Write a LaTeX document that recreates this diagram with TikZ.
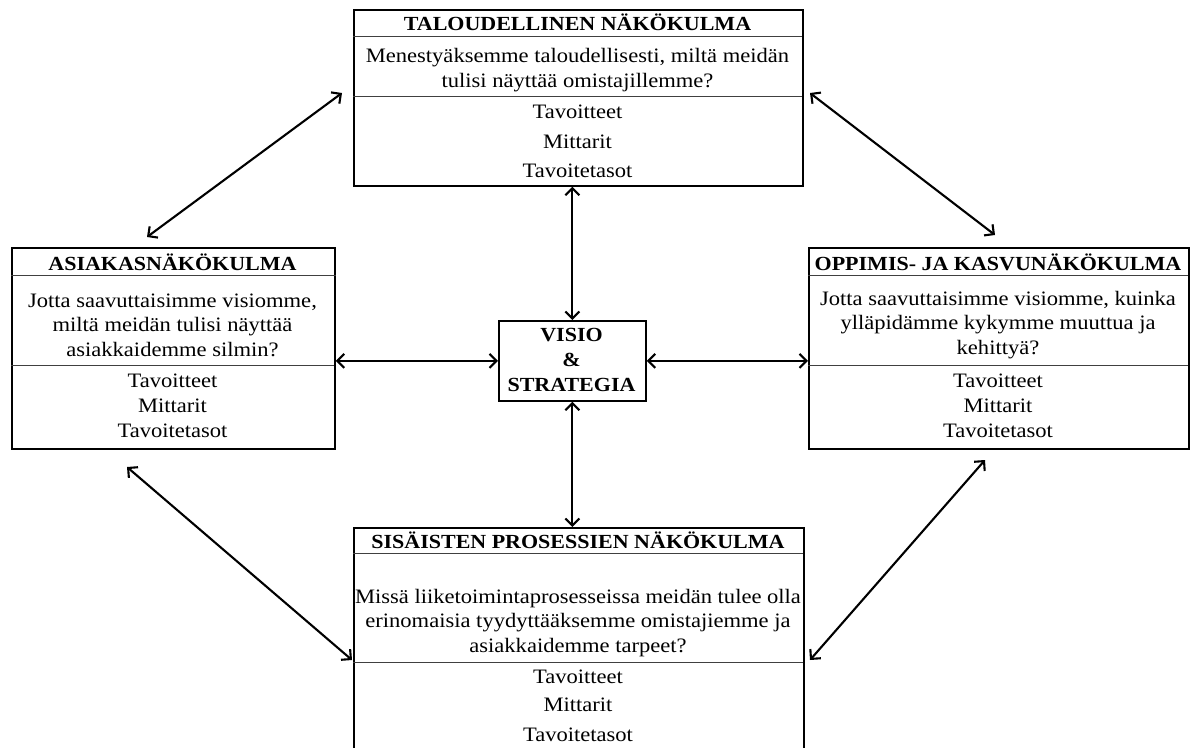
\documentclass[tikz,border=0pt]{standalone}
\usepackage{fontspec}
\setmainfont{Liberation Serif}[FakeStretch=1.1]
\usetikzlibrary{arrows.meta}

\tikzset{
  panel/.style={draw, line width=1.7pt, inner sep=0pt, anchor=north west},
  rule/.style={line width=1pt, black!75},
  head/.style={font=\fontsize{20}{25}\selectfont\bfseries, inner sep=0pt},
  body/.style={font=\fontsize{20.5}{24.5}\selectfont, align=center, inner sep=0pt},
  link/.style={line width=2.1pt,
    {Straight Barb[length=7pt,width=14pt]}-{Straight Barb[length=7pt,width=14pt]}},
}

\begin{document}
\begin{tikzpicture}[x=1pt,y=-1pt]
\useasboundingbox[fill=white] (0,0) rectangle (1190,747);

% --- financial perspective (top) ---
\node[panel, minimum width=449pt, minimum height=176pt] (fin) at (353,9) {};
\draw[rule] (353,36) -- (802,36);
\draw[rule] (353,96) -- (802,96);
\node[head] (finh) at (577.5,22) {TALOUDELLINEN NÄKÖKULMA};
\node[body] (finq) at (577.5,70) {Menestyäksemme taloudellisesti, miltä meidän\\tulisi näyttää omistajillemme?};
\node[body] (fint) at (577.5,112) {Tavoitteet};
\node[body] (finm) at (577.5,142) {Mittarit};
\node[body] (fins) at (577.5,171) {Tavoitetasot};

% --- customer perspective (left) ---
\node[panel, minimum width=323pt, minimum height=201pt] (cus) at (11,247) {};
\draw[rule] (11,275) -- (336,275);
\draw[rule] (11,365) -- (334,365);
\node[head] (cush) at (172.5,262) {ASIAKASNÄKÖKULMA};
\node[body] (cusq) at (172.5,325) {Jotta saavuttaisimme visiomme,\\miltä meidän tulisi näyttää\\asiakkaidemme silmin?};
\node[body] (cust) at (172.5,381) {Tavoitteet};
\node[body] (cusm) at (172.5,406) {Mittarit};
\node[body] (cuss) at (172.5,431) {Tavoitetasot};

% --- learning and growth perspective (right) ---
\node[panel, minimum width=380pt, minimum height=201pt] (lrn) at (808,247) {};
\draw[rule] (808,275) -- (1188,275);
\draw[rule] (808,365) -- (1188,365);
\node[head] (lrnh) at (998,262) {OPPIMIS- JA KASVUNÄKÖKULMA};
\node[body] (lrnq) at (998,325) {Jotta saavuttaisimme visiomme, kuinka\\ylläpidämme kykymme muuttua ja\\kehittyä?};
\node[body] (lrnt) at (998,381) {Tavoitteet};
\node[body] (lrnm) at (998,406) {Mittarit};
\node[body] (lrns) at (998,431) {Tavoitetasot};

% --- internal process perspective (bottom, runs off the page) ---
\node[panel, minimum width=450pt, minimum height=240pt] (int) at (353,527) {};
\draw[rule] (353,553) -- (803,553);
\draw[rule] (353,662) -- (803,662);
\node[head] (inth) at (578,540) {SISÄISTEN PROSESSIEN NÄKÖKULMA};
\node[body] (intq) at (578,623) {Missä liiketoimintaprosesseissa meidän tulee olla\\erinomaisia tyydyttääksemme omistajiemme ja\\asiakkaidemme tarpeet?};
\node[body] (intt) at (578,677) {Tavoitteet};
\node[body] (intm) at (578,705) {Mittarit};
\node[body] (ints) at (578,735) {Tavoitetasot};

% --- vision and strategy (centre) ---
\node[panel, minimum width=147pt, minimum height=80pt] (vis) at (498,320) {};
\node[head, align=center] (vist) at (571.5,360) {VISIO\\\&\\STRATEGIA};

% --- links ---
\coordinate (tlA) at (147,237);
\coordinate (tlB) at (342,93);
\coordinate (trA) at (810,93);
\coordinate (trB) at (995,235);
\coordinate (blA) at (127,467);
\coordinate (blB) at (352,660);
\coordinate (brA) at (985,460);
\coordinate (brB) at (810,660);

\draw[link] (vis.north) -- (vis.north |- fin.south);
\draw[link] (vis.south) -- (vis.south |- int.north);
\draw[link] (vis.west) -- (vis.west -| cus.east);
\draw[link] (vis.east) -- (vis.east -| lrn.west);
\draw[link] (tlA) -- (tlB);
\draw[link] (trA) -- (trB);
\draw[link] (blA) -- (blB);
\draw[link] (brA) -- (brB);
\end{tikzpicture}
\end{document}
